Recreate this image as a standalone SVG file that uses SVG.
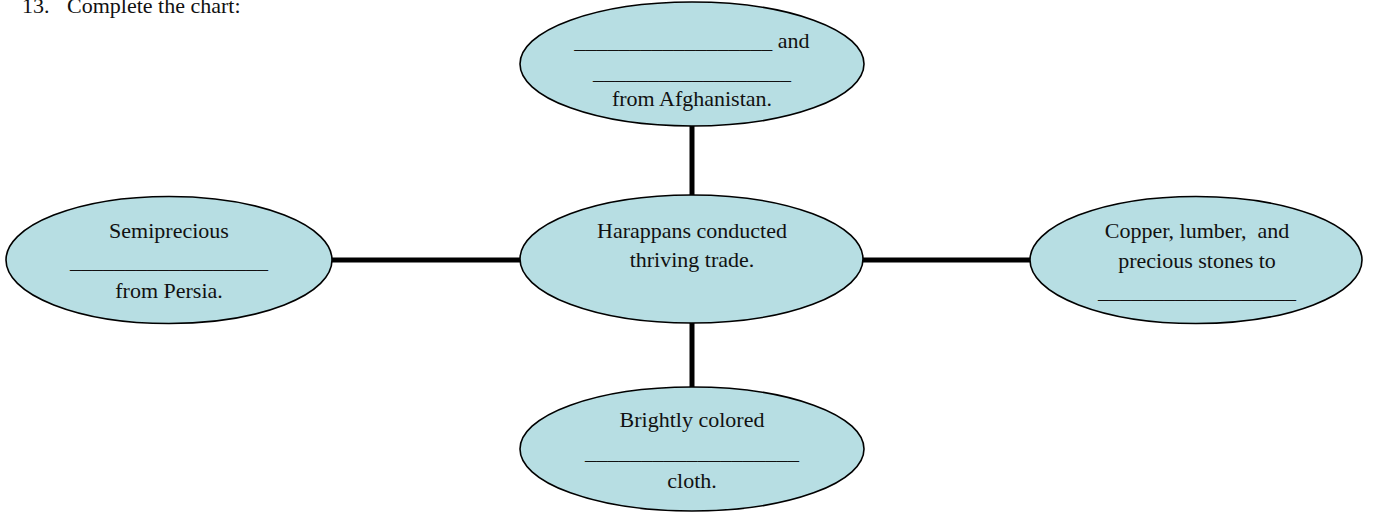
<svg xmlns="http://www.w3.org/2000/svg" width="1385" height="512" viewBox="0 0 1385 512">
<style>
  .node ellipse { fill: #b7dee3; stroke: #000; stroke-width: 1.6; }
  text { font-family: "Liberation Serif", "Times New Roman", serif; font-size: 22px; fill: #111; }
  .c { text-anchor: middle; }
  .conn line { stroke: #000; stroke-width: 5; }
</style>
<rect width="1385" height="512" fill="#fff"/>
<text x="22" y="13">13.<tspan x="67">Complete the chart:</tspan></text>
<g class="conn" id="connectors">
  <line x1="692" y1="124" x2="692" y2="197"/>
  <line x1="692" y1="321" x2="692" y2="389"/>
  <line x1="330" y1="260" x2="522" y2="260"/>
  <line x1="861" y1="260" x2="1032" y2="260"/>
</g>
<g class="node" id="top">
  <ellipse cx="692" cy="64" rx="172" ry="62"/>
  <text class="c" x="692" y="48">__________________ and</text>
  <text class="c" x="692" y="79">__________________</text>
  <text class="c" x="692" y="106">from Afghanistan.</text>
</g>
<g class="node" id="left">
  <ellipse cx="169" cy="260" rx="163" ry="63.5"/>
  <text class="c" x="169" y="238">Semiprecious</text>
  <text class="c" x="169" y="268">__________________</text>
  <text class="c" x="169" y="298">from Persia.</text>
</g>
<g class="node" id="center">
  <ellipse cx="691.5" cy="259" rx="171.5" ry="64"/>
  <text class="c" x="692" y="238">Harappans conducted</text>
  <text class="c" x="692" y="267">thriving trade.</text>
</g>
<g class="node" id="right">
  <ellipse cx="1196" cy="260" rx="166" ry="63.5"/>
  <text class="c" x="1197" y="238" xml:space="preserve">Copper, lumber,  and</text>
  <text class="c" x="1197" y="268">precious stones to</text>
  <text class="c" x="1197" y="298">__________________</text>
</g>
<g class="node" id="bottom">
  <ellipse cx="692" cy="449" rx="172" ry="62"/>
  <text class="c" x="692" y="427">Brightly colored</text>
  <text class="c" x="692" y="459" textLength="214" lengthAdjust="spacingAndGlyphs">___________________</text>
  <text class="c" x="692" y="488">cloth.</text>
</g>
</svg>
